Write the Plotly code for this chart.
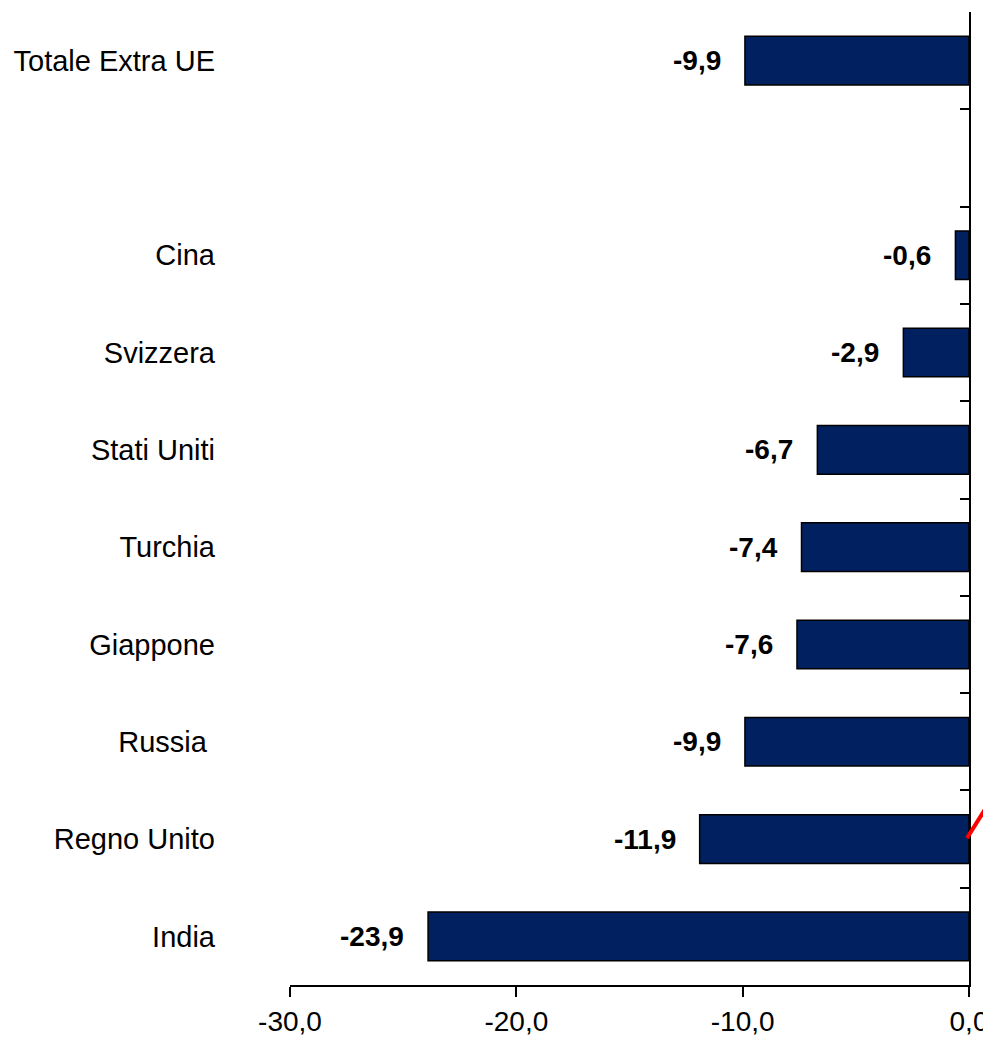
import plotly.graph_objects as go

categories = ["Totale Extra UE", " ", "Cina", "Svizzera", "Stati Uniti", "Turchia",
              "Giappone", "Russia\u00a0", "Regno Unito", "India"]
values = [-9.9, None, -0.6, -2.9, -6.7, -7.4, -7.6, -9.9, -11.9, -23.9]
x_ticks = [-30, -20, -10, 0]
x_ticktext = ["-30,0", "-20,0", "-10,0", "0,0"]

BAR_COLOR = "#002060"
FONT = "Liberation Sans, Arial, sans-serif"

fig = go.Figure()
fig.add_trace(go.Bar(
    x=values, y=categories, orientation="h",
    marker=dict(color=BAR_COLOR, line=dict(color="black", width=1.5)),
    width=0.5, hoverinfo="skip", showlegend=False,
))
# invisible trace carrying the right-hand category axis (boundary ticks)
fig.add_trace(go.Scatter(
    x=[0] * len(categories), y=categories, yaxis="y2", mode="markers",
    marker=dict(opacity=0), hoverinfo="skip", showlegend=False,
))

for c, v in zip(categories, values):
    if v is None:
        continue
    txt = ("%.1f" % v).replace(".", ",")
    fig.add_annotation(
        x=v, y=c, text="<b>%s</b>" % txt, showarrow=False,
        xanchor="right", yanchor="middle", xshift=-22,
        font=dict(family=FONT, size=28, color="black"),
    )

# stray red stroke at the right edge
fig.add_shape(type="line", xref="paper", yref="paper",
              x0=0.997, y0=0.151, x1=1.06, y1=0.221,
              line=dict(color="red", width=4))

fig.update_layout(
    width=983, height=1036,
    margin=dict(l=282, r=22, t=4, b=59, autoexpand=False),
    plot_bgcolor="white", paper_bgcolor="white",
    font=dict(family=FONT, size=28, color="black"),
    separators=",.",
    xaxis=dict(
        range=[-30, 0], tickvals=x_ticks, ticktext=x_ticktext,
        showgrid=False, zeroline=False, automargin=False,
        showline=True, linecolor="black", linewidth=2,
        ticks="outside", ticklen=10, tickwidth=2, tickcolor="black",
        tickfont=dict(size=28, family=FONT, color="black"),
    ),
    yaxis=dict(
        categoryorder="array", categoryarray=categories,
        range=[9.5, -0.5], showgrid=False, zeroline=False, automargin=False,
        showline=False, ticks="",
        tickfont=dict(size=29, family=FONT, color="black"),
        ticklabelstandoff=74,
    ),
    yaxis2=dict(
        overlaying="y", side="right", anchor="x", automargin=False,
        categoryorder="array", categoryarray=categories,
        range=[9.5, -0.5], showgrid=False, zeroline=False,
        showline=True, linecolor="black", linewidth=2,
        ticks="inside", tickson="boundaries", ticklen=9, tickwidth=2,
        tickcolor="black", showticklabels=False,
    ),
    bargap=0.5,
)

fig.write_html("out.html")
